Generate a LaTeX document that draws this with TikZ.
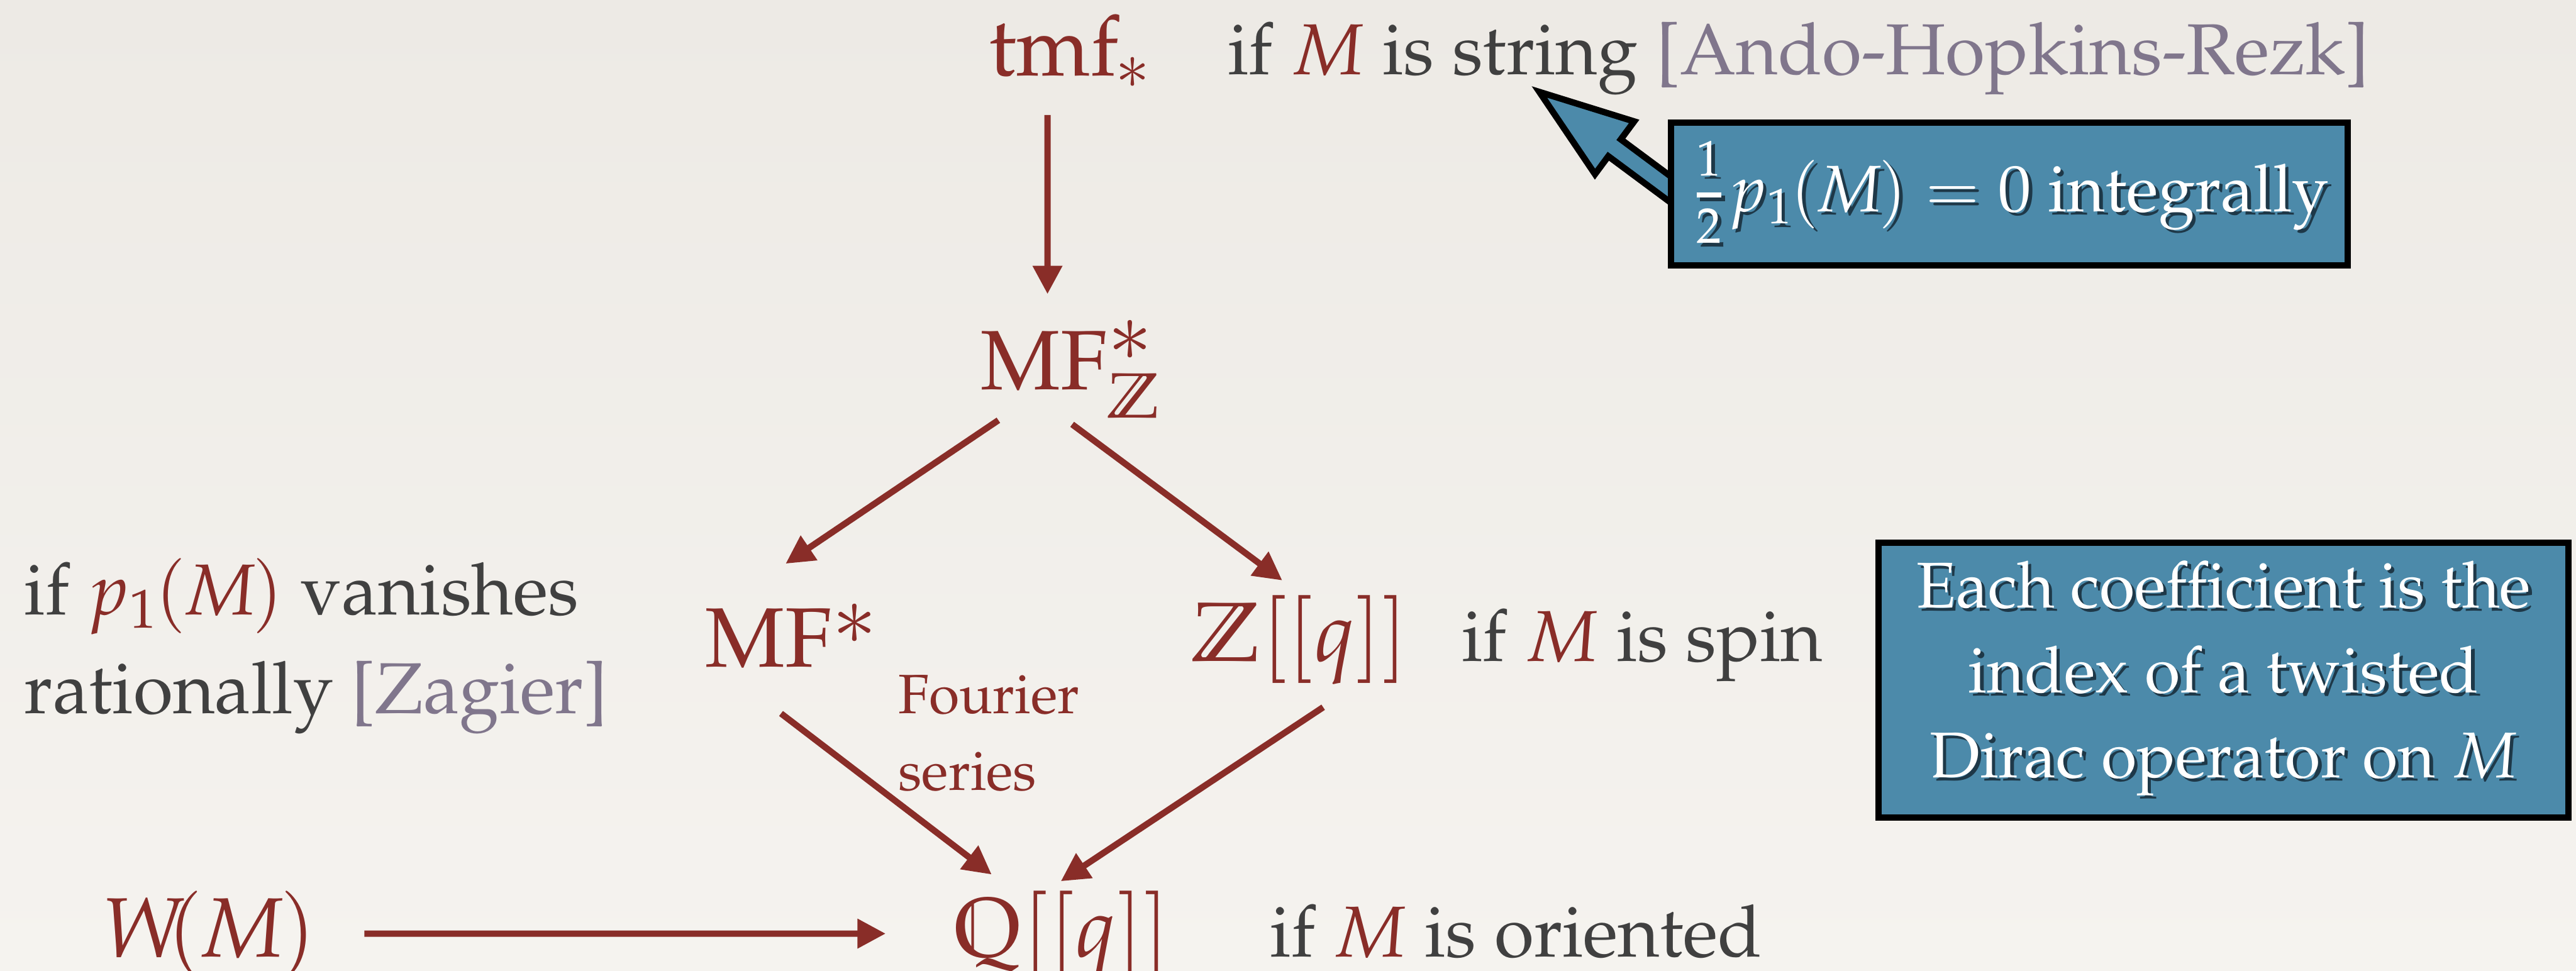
\documentclass[tikz,border=0pt]{standalone}
\usepackage[T1]{fontenc}
\usepackage{mathpazo}
\usepackage{amsmath,amssymb}
\usetikzlibrary{arrows.meta,positioning,calc}
\definecolor{maroon}{RGB}{137,45,40}
\definecolor{ink}{RGB}{64,64,64}
\definecolor{cite}{RGB}{128,118,140}
\definecolor{panel}{RGB}{76,138,170}
\definecolor{panelshade}{RGB}{30,56,72}
\definecolor{papertop}{RGB}{237,234,229}
\definecolor{papermid}{RGB}{231,228,223}
\definecolor{paperbot}{RGB}{245,243,239}
\newcommand{\mM}{\textcolor{maroon}{$M$}}
\newcommand{\grstar}{^{\raisebox{-2pt}{\scalebox{1.3}{$\scriptstyle\ast$}}}}
\newcommand{\ofM}{\mkern-1mu(\mkern-1mu M\mkern-1mu)}
\newcommand{\shtxt}[1]{\leavevmode\rlap{\kern0.6pt\raisebox{-0.6pt}{\textcolor{panelshade}{#1}}}#1}
\tikzset{
  every picture/.style={color=ink, line width=0.5pt},
  ring/.style={inner sep=0pt, text=maroon, font=\fontsize{14.6}{17}\selectfont},
  cond/.style={inner sep=0pt, text=ink, align=left, font=\fontsize{12.5}{17.1}\selectfont},
  note/.style={inner sep=0pt, text=maroon, align=left, font=\fontsize{9.6}{13.3}\selectfont},
  panelbox/.style={draw=black, line width=1.1pt, fill=panel, text=white, align=center, inner sep=0pt},
  callout/.style={draw=black, line width=1.1pt, fill=panel, line join=miter},
  map/.style={-{Triangle[length=4.9pt,width=4.9pt]}, line width=1.1pt, color=maroon},
}

\begin{document}
\begin{tikzpicture}
  \useasboundingbox (0,0) rectangle (15.68,5.91);
  \shade[top color=papertop, middle color=papermid, bottom color=paperbot] (0,0) rectangle (15.68,5.91);
  % the square of rings
  \node[ring, anchor=base west] (tmf) at (6.01,5.45) {$\mathrm{tmf}_{\mkern-1mu *}$};
  \node[ring, anchor=base west] (MFZ) at (5.96,3.54) {$\mathrm{MF}\grstar_{\mathbb{Z}}$};
  \node[ring, anchor=base west] (MFs) at (4.284,1.852) {$\mathrm{MF}\grstar$};
  \node[ring, anchor=base west] (Zq) at (7.243,1.886) {$\mathbb{Z}[[q]]$};
  \node[ring, anchor=base west] (Qq) at (5.80,0.086) {$\mathbb{Q}[[q]]$};
  \node[ring, anchor=base west] (WM) at (0.613,0.085) {$W\mkern-3mu\ofM$};
  % conditions
  \node[cond, anchor=base west] (string) at (7.465,5.455) {if \mM{} is string \textcolor{cite}{[Ando-Hopkins-Rezk]}};
  \node[cond, base right=0.308cm of Zq] (spin) {if \mM{} is spin};
  \node[cond, base right=0.594cm of Qq] (orient) {if \mM{} is oriented};
  \node[cond, anchor=base west] (vanish) at (0.14,1.567) {if \textcolor{maroon}{$p_1\ofM$} vanishes\\rationally \textcolor{cite}{[Zagier]}};
  \node[note, anchor=base west] (fourier) at (5.46,1.10) {Fourier\\series};
  % maps
  \draw[map] ([shift={(0.366,-0.24)}]tmf.base west) -- ([shift={(0.416,0.58)}]MFZ.base west);
  \draw[map] ([shift={(0.117,-0.188)}]MFZ.base west) -- ([shift={(0.498,0.627)}]MFs.base west);
  \draw[map] ([shift={(0.566,-0.213)}]MFZ.base west) -- ([shift={(0.562,0.491)}]Zq.base west);
  \draw[map] ([shift={(0.47,-0.285)}]MFs.base west) -- ([shift={(0.236,0.501)}]Qq.base west);
  \draw[map] ([shift={(0.811,-0.281)}]Zq.base west) -- ([shift={(0.657,0.46)}]Qq.base west);
  \draw[map] ([shift={(1.605,0.142)}]WM.base west) -- ([shift={(-0.409,0.141)}]Qq.base west);
  % callout to the string condition
  \coordinate (strtip) at ([shift={(1.865,-0.075)}]string.base west);
  \begin{scope}[shift={(strtip)}, rotate=-36.6]
    \draw[callout] (0.05,0) -- (0.62,0.2) -- (0.62,0.064) -- (1.4,0.064) -- (1.4,-0.064) -- (0.62,-0.064) -- (0.62,-0.2) -- cycle;
  \end{scope}
  \node[panelbox, minimum width=4.12cm, minimum height=0.87cm, font=\fontsize{11.4}{14}\selectfont] (half) at (12.23,4.73)
    {\shtxt{$\genfrac{}{}{0.9pt}{}{\rule[-2pt]{0pt}{2pt}1}{\rule{0pt}{7pt}2}p_1\ofM = 0$ integrally}};
  \node[panelbox, minimum width=4.2cm, minimum height=1.675cm, font=\fontsize{11.2}{14.7}\selectfont] (coeff) at (13.535,1.77)
    {\shtxt{Each coefficient is the}\\ \shtxt{index of a twisted}\\ \shtxt{Dirac operator on $M$}};
\end{tikzpicture}
\end{document}
